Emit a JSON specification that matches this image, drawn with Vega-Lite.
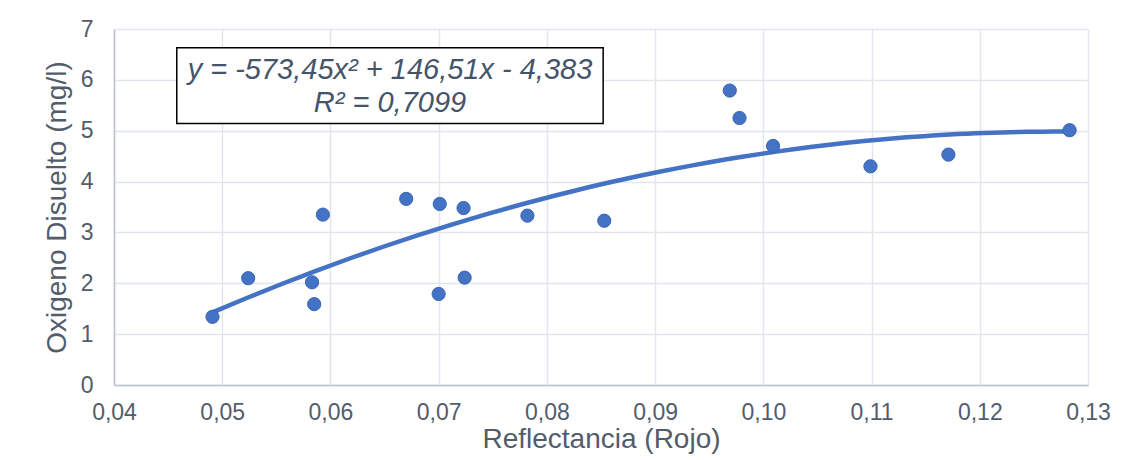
{
  "$schema": "https://vega.github.io/schema/vega-lite/v6.json",
  "width": 974,
  "height": 356,
  "autosize": {"type": "none"},
  "padding": {"left": 114, "top": 29, "right": 45, "bottom": 75},
  "background": "white",
  "config": {
    "locale": {"number": {"decimal": ",", "thousands": ".", "grouping": [3], "currency": ["", " €"]}},
    "font": "Liberation Sans",
    "view": {"stroke": null}
  },
  "datasets": {
    "pts": [
      {"x": 0.0491, "y": 1.34},
      {"x": 0.0524, "y": 2.10},
      {"x": 0.0583, "y": 2.02},
      {"x": 0.0585, "y": 1.59},
      {"x": 0.0593, "y": 3.35},
      {"x": 0.0670, "y": 3.66},
      {"x": 0.0701, "y": 3.56},
      {"x": 0.0723, "y": 3.48},
      {"x": 0.0782, "y": 3.33},
      {"x": 0.0853, "y": 3.23},
      {"x": 0.0700, "y": 1.79},
      {"x": 0.0724, "y": 2.11},
      {"x": 0.0969, "y": 5.79},
      {"x": 0.0978, "y": 5.25},
      {"x": 0.1009, "y": 4.70},
      {"x": 0.1099, "y": 4.30},
      {"x": 0.1171, "y": 4.53},
      {"x": 0.1283, "y": 5.01}
    ],
    "box": [{"x1": 0.0458, "x2": 0.0852, "y1": 5.14, "y2": 6.63}],
    "labels": [
      {"x": 0.0655, "y": 6.19, "t": "y = -573,45x² + 146,51x - 4,383"},
      {"x": 0.0655, "y": 5.54, "t": "R² = 0,7099"}
    ]
  },
  "layer": [
    {
      "data": {"name": "pts"},
      "transform": [{"regression": "y", "on": "x", "method": "poly", "order": 2}],
      "mark": {"type": "line", "color": "#4472C4", "strokeWidth": 4.5},
      "encoding": {
        "x": {
          "field": "x", "type": "quantitative",
          "scale": {"domain": [0.04, 0.13], "nice": false, "zero": false},
          "axis": {
            "values": [0.04, 0.05, 0.06, 0.07, 0.08, 0.09, 0.10, 0.11, 0.12, 0.13],
            "format": ".2f",
            "title": "Reflectancia (Rojo)",
            "titleFontSize": 28, "titleFontWeight": "normal", "titleColor": "#525C6B",
            "titlePadding": 1,
            "labelFontSize": 23, "labelColor": "#525C6B", "labelPadding": 16,
            "labelFlush": false, "labelOverlap": false,
            "ticks": false,
            "domainColor": "#BCC3CF", "domainWidth": 1.5,
            "gridColor": "#E2E6EC", "gridWidth": 1.5
          }
        },
        "y": {
          "field": "y", "type": "quantitative",
          "scale": {"domain": [0, 7], "nice": false},
          "axis": {
            "values": [0, 1, 2, 3, 4, 5, 6, 7],
            "format": "d",
            "title": "Oxigeno Disuelto (mg/l)",
            "titleFontSize": 28, "titleFontWeight": "normal", "titleColor": "#525C6B",
            "titlePadding": 9,
            "labelFontSize": 23, "labelColor": "#525C6B", "labelPadding": 21,
            "labelFlush": false, "labelOverlap": false,
            "ticks": false,
            "domainColor": "#BCC3CF", "domainWidth": 1.5,
            "gridColor": "#E2E6EC", "gridWidth": 1.5
          }
        }
      }
    },
    {
      "data": {"name": "pts"},
      "mark": {"type": "circle", "size": 175, "color": "#4472C4", "opacity": 1, "stroke": "#3B66B5", "strokeWidth": 1},
      "encoding": {
        "x": {"field": "x", "type": "quantitative"},
        "y": {"field": "y", "type": "quantitative"}
      }
    },
    {
      "data": {"name": "box"},
      "mark": {"type": "rect", "fill": "white", "stroke": "black", "strokeWidth": 1.5},
      "encoding": {
        "x": {"field": "x1", "type": "quantitative"},
        "x2": {"field": "x2"},
        "y": {"field": "y1", "type": "quantitative"},
        "y2": {"field": "y2"}
      }
    },
    {
      "data": {"name": "labels"},
      "mark": {"type": "text", "fontSize": 29, "fontStyle": "italic", "color": "#44546A", "align": "center", "baseline": "middle"},
      "encoding": {
        "x": {"field": "x", "type": "quantitative"},
        "y": {"field": "y", "type": "quantitative"},
        "text": {"field": "t"}
      }
    }
  ]
}
